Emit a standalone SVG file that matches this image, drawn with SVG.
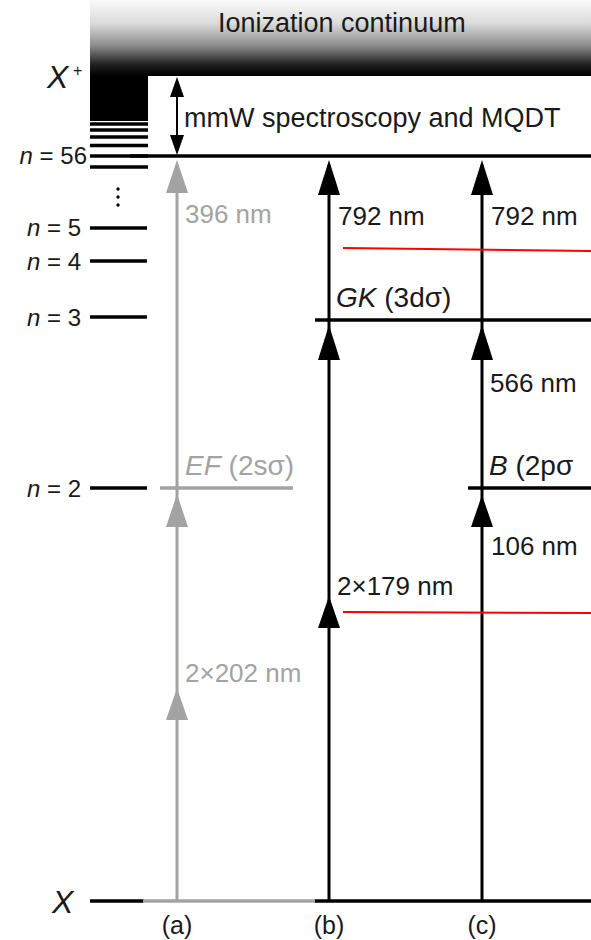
<svg xmlns="http://www.w3.org/2000/svg" width="591" height="940" viewBox="0 0 591 940">
<defs>
<linearGradient id="cont" x1="0" y1="0" x2="0" y2="1">
<stop offset="0" stop-color="#fafafa"/>
<stop offset="0.3" stop-color="#dcdcdc"/>
<stop offset="0.6" stop-color="#8c8c8c"/>
<stop offset="0.85" stop-color="#202020"/>
<stop offset="1" stop-color="#000000"/>
</linearGradient>
<style>
text{font-family:"Liberation Sans",Arial,sans-serif;fill:#1a1a1a}
.g{fill:#a3a3a3}
.it{font-style:italic}
.lvl{stroke:#000;stroke-width:3.5;fill:none}
.glvl{stroke:#a3a3a3;stroke-width:3.5;fill:none}
.ax{stroke:#000;stroke-width:3;fill:none}
.gax{stroke:#a3a3a3;stroke-width:3;fill:none}
.hd{fill:#000}
.ghd{fill:#a3a3a3}
.red{stroke:#ff0000;stroke-width:2;fill:none}
.nl{font-size:24px}
.wl{font-size:26px}
.st{font-size:28px}
.lab{font-size:25px}
</style>
</defs>

<g id="continuum">
<rect x="90" y="0" width="501" height="76" fill="url(#cont)"/>
<rect x="90" y="76" width="58" height="45" fill="#000"/>
<g stroke="#000" stroke-width="3.4">
<line x1="90" y1="124" x2="148" y2="124"/>
<line x1="90" y1="130" x2="148" y2="130"/>
<line x1="90" y1="137" x2="148" y2="137"/>
<line x1="90" y1="145.5" x2="148" y2="145.5"/>
<line x1="90" y1="156" x2="148" y2="156"/>
<line x1="90" y1="167" x2="148" y2="167"/>
</g>
<text x="218" y="32" style="font-size:27px">Ionization continuum</text>
<text x="47" y="88" class="it" style="font-size:32px">X</text>
<text x="73" y="76" style="font-size:16px">+</text>
</g>

<g id="mmw">
<line x1="177" y1="90" x2="177" y2="142" stroke="#000" stroke-width="2"/>
<polygon points="177,77 170,97 184,97" class="hd"/>
<polygon points="177,155 170,135 184,135" class="hd"/>
<text x="184" y="127" style="font-size:27px">mmW spectroscopy and MQDT</text>
</g>

<g id="levels-H">
<line x1="130" y1="156" x2="591" y2="156" class="lvl"/>
<text x="87" y="164" class="nl" text-anchor="end"><tspan class="it">n</tspan> = 56</text>
<circle cx="118" cy="189" r="1.7" fill="#000"/>
<circle cx="118" cy="197" r="1.7" fill="#000"/>
<circle cx="118" cy="205" r="1.7" fill="#000"/>
<line x1="90" y1="228" x2="147" y2="228" class="lvl"/>
<text x="81" y="236" class="nl" text-anchor="end"><tspan class="it">n</tspan> = 5</text>
<line x1="90" y1="261" x2="147" y2="261" class="lvl"/>
<text x="81" y="270" class="nl" text-anchor="end"><tspan class="it">n</tspan> = 4</text>
<line x1="90" y1="317" x2="147" y2="317" class="lvl"/>
<text x="81" y="326" class="nl" text-anchor="end"><tspan class="it">n</tspan> = 3</text>
<line x1="90" y1="488" x2="147" y2="488" class="lvl"/>
<text x="81" y="497" class="nl" text-anchor="end"><tspan class="it">n</tspan> = 2</text>
</g>

<g id="level-X">
<line x1="90" y1="901" x2="144" y2="901" class="lvl"/>
<line x1="143" y1="901" x2="316" y2="901" class="glvl"/>
<line x1="315" y1="901" x2="591" y2="901" class="lvl"/>
<text x="52" y="913" class="it" style="font-size:32px">X</text>
</g>

<g id="level-EF">
<line x1="160" y1="488" x2="293" y2="488" class="glvl"/>
<text x="185" y="475" class="st g"><tspan class="it">EF</tspan> (2sσ)</text>
</g>

<g id="level-GK">
<line x1="315" y1="320" x2="591" y2="320" class="lvl"/>
<text x="336" y="307" class="st"><tspan class="it">GK</tspan> (3dσ)</text>
</g>

<g id="level-B">
<line x1="468" y1="488" x2="591" y2="488" class="lvl"/>
<text x="489" y="475" class="st"><tspan class="it">B</tspan> (2pσ</text>
</g>

<g id="connectors">
<line x1="177" y1="901" x2="177" y2="165" class="gax"/>
<polygon points="177,160 166,193 188,193" class="ghd"/>
<polygon points="177,494 166,527 188,527" class="ghd"/>
<polygon points="177,688 166,720 188,720" class="ghd"/>

<line x1="329" y1="901" x2="329" y2="165" class="ax"/>
<polygon points="329,160 318,195 340,195" class="hd"/>
<polygon points="329,325 318,360 340,360" class="hd"/>
<polygon points="329,596 318,628 340,628" class="hd"/>

<line x1="482" y1="901" x2="482" y2="165" class="ax"/>
<polygon points="482,160 471,195 493,195" class="hd"/>
<polygon points="482,325 471,360 493,360" class="hd"/>
<polygon points="482,495 471,527 493,527" class="hd"/>

<line x1="343" y1="248" x2="591" y2="251" class="red"/>
<line x1="343" y1="612" x2="591" y2="613" class="red"/>
</g>

<g id="labels">
<text x="185" y="223" class="wl g">396 nm</text>
<text x="185" y="682" class="wl g">2×202 nm</text>
<text x="338" y="225" class="wl">792 nm</text>
<text x="491" y="225" class="wl">792 nm</text>
<text x="490" y="392" class="wl">566 nm</text>
<text x="491" y="555" class="wl">106 nm</text>
<text x="337" y="595" class="wl">2×179 nm</text>
<text x="177" y="934" text-anchor="middle" class="lab">(a)</text>
<text x="329" y="934" text-anchor="middle" class="lab">(b)</text>
<text x="482" y="934" text-anchor="middle" class="lab">(c)</text>
</g>
</svg>
